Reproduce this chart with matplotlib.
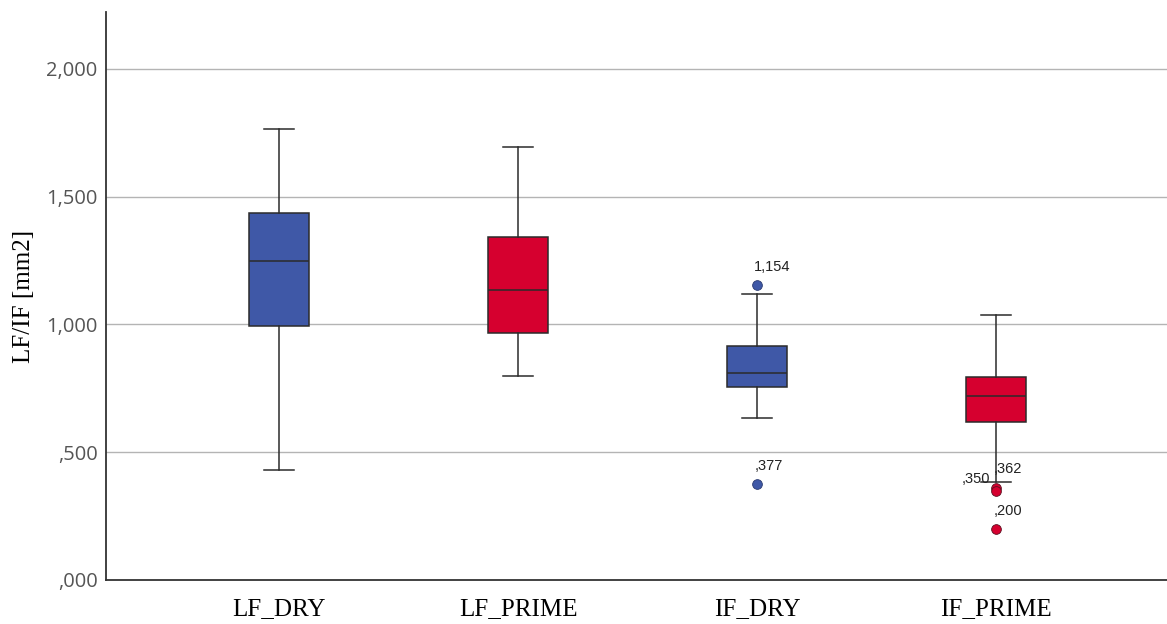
import numpy as np
import matplotlib
matplotlib.use('Agg')
import matplotlib.pyplot as plt

# box statistics
groups = ["LF_DRY", "LF_PRIME", "IF_DRY", "IF_PRIME"]
whislo = [0.431, 0.798, 0.633, 0.385]
q1 = [0.994, 0.966, 0.754, 0.620]
med = [1.249, 1.136, 0.809, 0.721]
q3 = [1.436, 1.342, 0.915, 0.793]
whishi = [1.765, 1.696, 1.121, 1.037]
outliers = [[], [], [1.154, 0.377], [0.362, 0.350, 0.200]]
outlier_labels = [[], [], ["1,154", ",377"], [",362", ",350", ",200"]]
colors = ["#3f58a7", "#d6002f", "#3f58a7", "#d6002f"]

yticks = [0.0, 0.5, 1.0, 1.5, 2.0]
ytick_labels = [",000", ",500", "1,000", "1,500", "2,000"]

stats = []
for i in range(len(groups)):
    stats.append({"label": groups[i], "whislo": whislo[i], "q1": q1[i], "med": med[i],
                  "q3": q3[i], "whishi": whishi[i], "fliers": []})

fig = plt.figure(figsize=(11.67, 6.24), dpi=100)
ax = fig.add_axes([106/1167, 44/624, 1 - 106/1167, (580-12)/624])

line_col = "#2b2b2b"
pos = np.arange(1, len(groups) + 1)
bp = ax.bxp(stats, positions=pos, widths=0.25, patch_artist=True, showfliers=False,
            capwidths=0.125,
            boxprops=dict(edgecolor=line_col, linewidth=1.1),
            medianprops=dict(color=line_col, linewidth=1.1),
            whiskerprops=dict(color=line_col, linewidth=1.1),
            capprops=dict(color=line_col, linewidth=1.1),
            zorder=3)
for patch, c in zip(bp["boxes"], colors):
    patch.set_facecolor(c)

# outliers + labels
for i in range(len(groups)):
    for v, lab in zip(outliers[i], outlier_labels[i]):
        ax.plot(pos[i], v, "o", ms=7, mfc=colors[i], mec="#5a1020" if colors[i] == "#d6002f" else "#2a3a70",
                mew=0.6, zorder=4)
        if lab == ",350":
            off = (-4, 3)
            ha = "right"
        else:
            off = (-2, 8)
            ha = "left"
        ax.annotate(lab, (pos[i], v), xytext=off, textcoords="offset points",
                    ha=ha, va="bottom", fontsize=10.5, family="Liberation Sans", color="#222222")

ax.set_xlim(0.276, 4.715)
ax.set_ylim(0, 2.223)
ax.set_yticks(yticks)
ax.set_yticklabels(ytick_labels, family="Open Sans", fontsize=14.5, color="#555555")
ax.set_xticks(pos)
ax.set_xticklabels(groups, family="Liberation Serif", fontsize=18)
ax.tick_params(length=0, axis="both")
ax.tick_params(axis="y", pad=6)
ax.tick_params(axis="x", pad=13)
ax.set_ylabel("LF/IF [mm2]", family="Liberation Serif", fontsize=18, labelpad=8)

for y in yticks[1:]:
    ax.axhline(y, color="#b4b4b4", lw=1.0, zorder=1)

for s in ["top", "right"]:
    ax.spines[s].set_visible(False)
for s in ["left", "bottom"]:
    ax.spines[s].set_color("#333333")
    ax.spines[s].set_linewidth(1.3)

fig.savefig("out.png", dpi=100)
